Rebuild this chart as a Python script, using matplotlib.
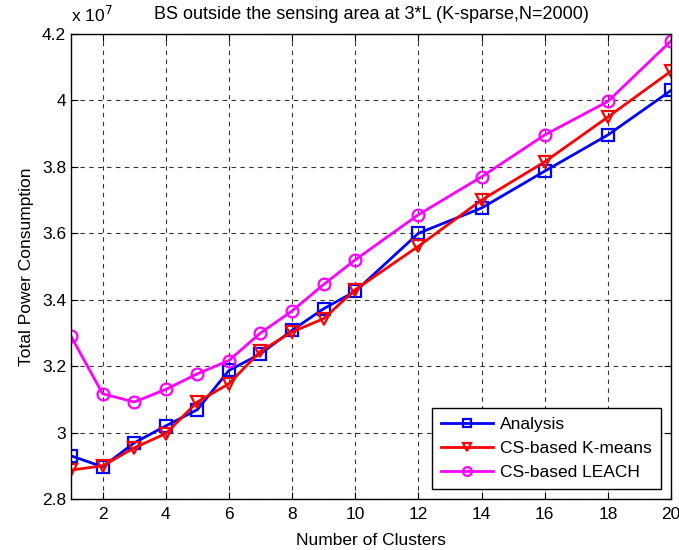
import matplotlib
matplotlib.use("Agg")
import matplotlib.pyplot as plt

plt.rcParams['font.family'] = ['Liberation Sans', 'DejaVu Sans']

clusters = [1, 2, 3, 4, 5, 6, 7, 8, 9, 10, 12, 14, 16, 18, 20]

# Total power consumption, in units of 1e7
analysis = [2.93, 2.897, 2.969, 3.02, 3.069, 3.187, 3.237, 3.308, 3.373, 3.425,
            3.60, 3.676, 3.787, 3.896, 4.03]
kmeans = [2.887, 2.90, 2.954, 2.997, 3.092, 3.147, 3.245, 3.303, 3.343, 3.43,
          3.561, 3.70, 3.815, 3.95, 4.088]
leach = [3.29, 3.117, 3.092, 3.13, 3.177, 3.217, 3.30, 3.366, 3.446, 3.52,
         3.656, 3.77, 3.896, 3.997, 4.179]

xticks = [2, 4, 6, 8, 10, 12, 14, 16, 18, 20]
yticks = [2.8, 3.0, 3.2, 3.4, 3.6, 3.8, 4.0, 4.2]
yticklabels = ['2.8', '3', '3.2', '3.4', '3.6', '3.8', '4', '4.2']

fig = plt.figure(figsize=(6.79, 5.5), dpi=100)
ax = fig.add_axes([0.1046, 0.0927, 0.8836, 0.8455])

common = dict(linewidth=2, markersize=8.5, markerfacecolor='none', markeredgewidth=1.6)
ax.plot(clusters, analysis, color='#0000ff', marker='s', label='Analysis', **common)
ax.plot(clusters, kmeans, color='#ff0000', marker='v', label='CS-based K-means', **common)
ax.plot(clusters, leach, color='#ff00ff', marker='o', label='CS-based LEACH', **common)

ax.set_xlim(1, 20)
ax.set_ylim(2.8, 4.2)
ax.set_xticks(xticks)
ax.set_yticks(yticks)
ax.set_yticklabels(yticklabels)
ax.tick_params(direction='in', length=5, labelsize=12.5, top=True, right=True,
               labeltop=False, labelright=False)
ax.tick_params(axis='x', pad=5.5)
ax.grid(True, color='black', linestyle=(0, (4, 4)), linewidth=0.8, alpha=0.8)
for s in ax.spines.values():
    s.set_linewidth(1.0)

ax.set_xlabel('Number of Clusters', fontsize=12.5, labelpad=8.5)
ax.set_ylabel('Total Power Consumption', fontsize=12.5, labelpad=6)
ax.set_title('BS outside the sensing area at 3*L (K-sparse,N=2000)', fontsize=13, pad=11)
ax.text(0.0, 1.02, r'x 10$^{7}$', transform=ax.transAxes, fontsize=12.5,
        ha='left', va='bottom')

leg = ax.legend(loc='lower right', fontsize=12.5, fancybox=False, framealpha=1,
                edgecolor='black', borderpad=0.55, handlelength=3.0,
                handletextpad=0.4, labelspacing=0.5, borderaxespad=0.55,
                markerscale=0.75)
leg.get_frame().set_linewidth(1.0)

fig.savefig('out.png', dpi=100)
